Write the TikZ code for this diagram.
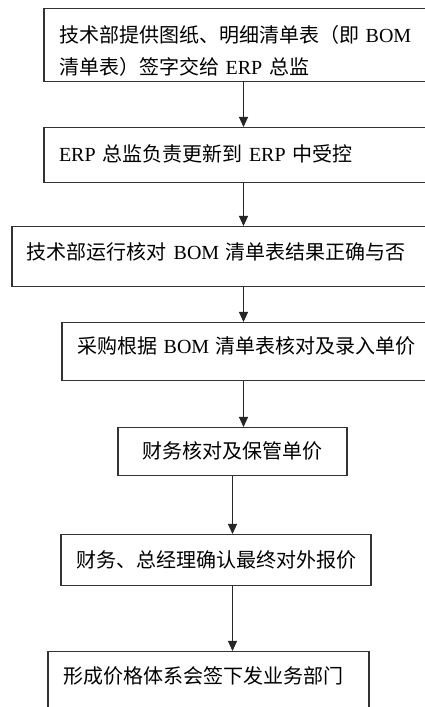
\documentclass[tikz,border=0pt]{standalone}
\usepackage{fontspec}
\setmainfont{Liberation Serif}
\newfontfamily\cjk{Noto Sans CJK SC}
\usetikzlibrary{arrows.meta}
\newcommand{\en}[1]{{\rmfamily #1}}
\tikzset{
  flowbox/.style={draw=black!80, line width=1.1pt, anchor=north, inner xsep=15pt, inner ysep=0pt,
    font=\cjk\fontsize{20}{32}\selectfont},
  leftbox/.style={flowbox, align=left},
  midbox/.style={flowbox, align=center},
  flowarr/.style={draw=black!85, line width=1pt, -{Triangle[width=9pt,length=10pt]}}
}
\begin{document}
\begin{tikzpicture}[x=1pt, y=1pt]
\useasboundingbox (0,0) rectangle (424,707);
% boxes, top edges at the page coordinates
\node[leftbox, text width=366pt, text height=33.6pt, text depth=39.4pt] (bom) at (242,699)
  {技术部提供图纸、明细清单表（即 \en{BOM}\\清单表）签字交给 \en{ERP} 总监};
\node[leftbox, text width=366pt, text height=33.6pt, text depth=21.4pt] (erp) at (242,580)
  {\en{ERP} 总监负责更新到 \en{ERP} 中受控};
\node[leftbox, text width=398pt, text height=32.6pt, text depth=27.4pt] (check) at (226,481)
  {技术部运行核对 \en{BOM} 清单表结果正确与否};
\node[leftbox, text width=348pt, text height=30.6pt, text depth=27.4pt] (buy) at (251,385)
  {采购根据 \en{BOM} 清单表核对及录入单价};
\node[midbox, minimum width=229pt, text height=30.6pt, text depth=17.4pt] (fin) at (232.5,280)
  {财务核对及保管单价};
\node[midbox, minimum width=306pt, text height=32.6pt, text depth=18.4pt] (quote) at (216,173)
  {财务、总经理确认最终对外报价};
\node[leftbox, text width=291pt, text height=31.6pt, text depth=37.4pt] (price) at (208.5,56)
  {形成价格体系会签下发业务部门};
% arrows
\coordinate (ax) at (243.5,0);
\draw[flowarr] (bom.south -| ax) -- (erp.north -| ax);
\draw[flowarr] (erp.south -| ax) -- (check.north -| ax);
\draw[flowarr] (check.south -| ax) -- (buy.north -| ax);
\draw[flowarr] (buy.south -| ax) -- (fin.north -| ax);
\draw[flowarr] (fin.south) -- (quote.north -| fin.south);
\draw[flowarr] (quote.south -| fin.south) -- (price.north -| fin.south);
\end{tikzpicture}
\end{document}
